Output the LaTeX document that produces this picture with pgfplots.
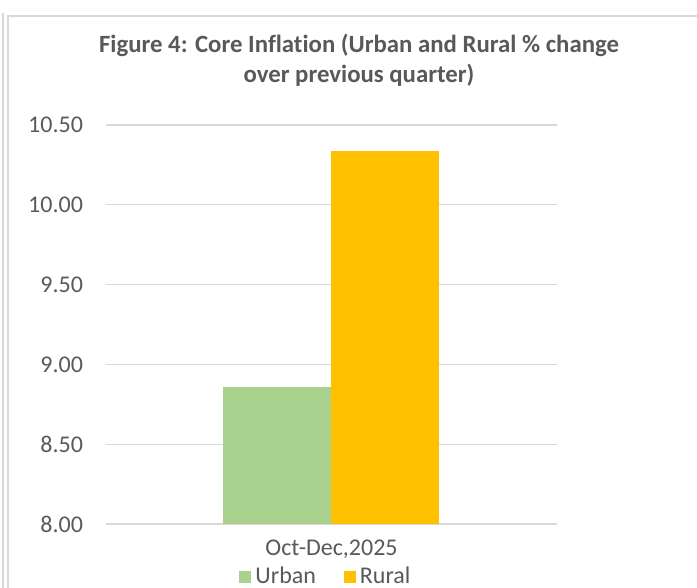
\documentclass[border=0pt]{standalone}
\usepackage{pgfplots}
\pgfplotsset{compat=1.18}
\usepackage{fontspec}
\setmainfont{Carlito}[Ligatures=CommonOff]
\definecolor{txt}{HTML}{595959}
\definecolor{gridc}{HTML}{D9D9D9}
\definecolor{urban}{HTML}{A9D18E}
\definecolor{rural}{HTML}{FFC000}

\begin{document}
\begin{tikzpicture}
% page = 697x588 px at 0.5pt per px
\draw[gridc, line width=0.6pt] (1.5pt,0pt) -- (1.5pt,287.5pt);
\draw[gridc, line width=0.6pt] (4pt,-5pt) -- (4pt,286pt) -- (360pt,286pt);

\node[font=\bfseries\fontsize{12.4}{15}\selectfont, text=txt, align=center]
  at (179.5pt,264pt) {Figure 4: Core Inflation (Urban and Rural \% change\\over previous quarter)};

\begin{axis}[
    at={(53pt,32pt)}, anchor=south west,
    scale only axis,
    width=225.5pt, height=199.5pt,
    ybar=0pt, bar width=54pt,
    xmin=-0.5, xmax=0.5,
    ymin=8, ymax=10.5,
    ytick={8,8.5,...,10.5},
    xtick={0}, xticklabels={{Oct-Dec{,}2025}},
    axis line style={draw=none},
    major tick length=0pt,
    ymajorgrids, grid style={gridc, line width=0.6pt},
    yticklabel style={/pgf/number format/fixed, /pgf/number format/fixed zerofill,
        /pgf/number format/precision=2, xshift=-8pt},
    /pgf/number format/assume math mode=true,
    ticklabel style={font=\fontsize{12}{14}\selectfont, text=txt},
    xticklabel style={yshift=-4.5pt},
    legend style={at={(0.49,-0.133)}, anchor=center, draw=none, fill=none,
        legend columns=-1, font=\fontsize{12}{14}\selectfont, text=txt,
        /tikz/every even column/.append style={column sep=12pt}},
    legend image code/.code={\fill[#1] (0pt,-3pt) rectangle (6pt,3pt);},
]
\addplot[fill=urban, draw=none] coordinates {(0,8.86)};
\addplot[fill=rural, draw=none] coordinates {(0,10.34)};
\legend{Urban, Rural}
\end{axis}
\pgfresetboundingbox
\useasboundingbox (0pt,0pt) rectangle (348.5pt,294pt);
\end{tikzpicture}
\end{document}
